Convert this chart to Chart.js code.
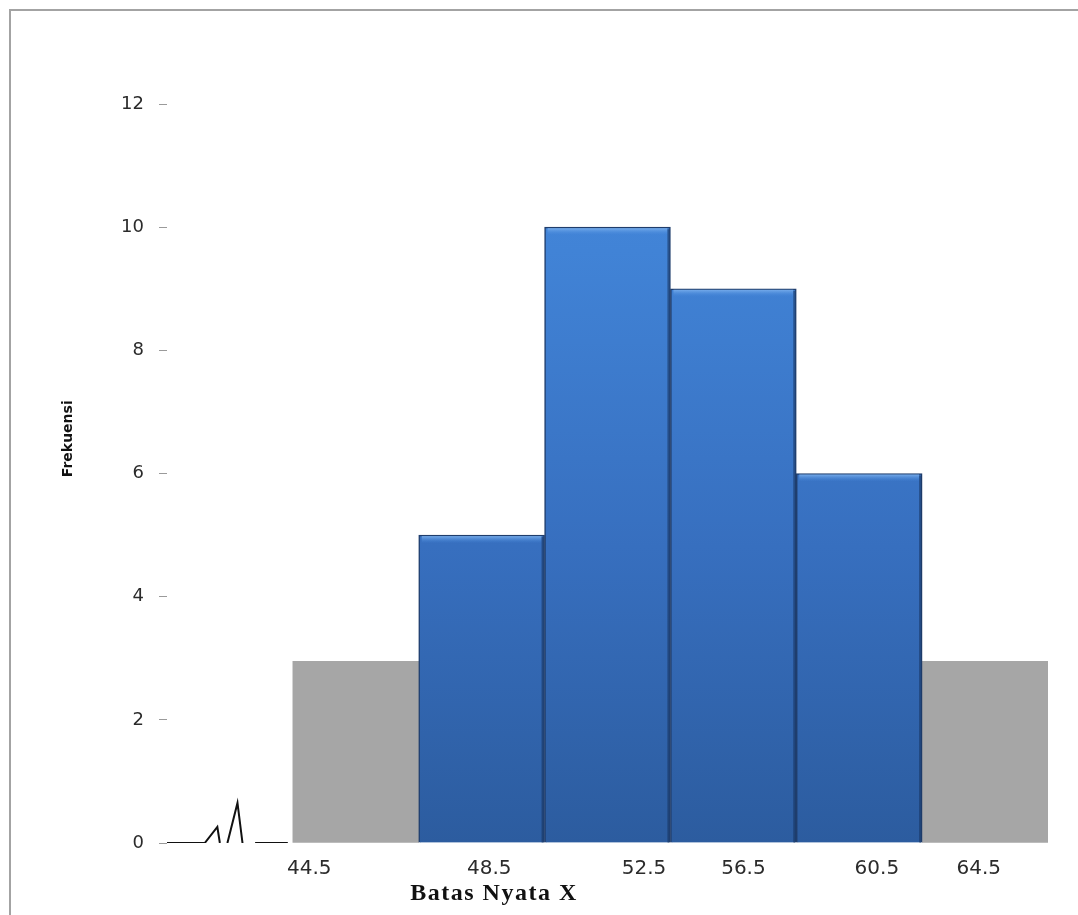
<!DOCTYPE html>
<html>
<head>
<meta charset="utf-8">
<title>Histogram Frekuensi</title>
<script src="https://cdn.jsdelivr.net/npm/chart.js@4/dist/chart.umd.min.js"></script>
<style>
  html, body { margin: 0; padding: 0; background: #ffffff; }
  #wrap { width: 1078px; height: 915px; position: relative; }
</style>
</head>
<body>
<div id="wrap"><canvas id="c"></canvas></div>
<script>
// Class index of each histogram column (0 = empty leading column)
const classIndex = [0, 1, 2, 3, 4, 5, 6];
// Frequency of each class interval
const frekuensi = [null, null, 5, 10, 9, 6, null];
// Grey backdrop columns at the two outer classes
const latar = [null, 2.95, null, null, null, null, 2.95];
// Class boundary labels along the x axis
const xTickLabels = ['44.5', '48.5', '52.5', '56.5', '60.5', '64.5'];
// Small trace drawn in the leading column (x in class units, null = break)
const jejakX = [-0.5, -0.2, -0.1, -0.08, -0.05, -0.02, 0.06, 0.10, 0.15, 0.20, 0.46];
const jejakY = [0, 0, 0.26, 0, null, 0, 0.65, 0, null, 0, 0];

// Where each boundary label sits along the class axis
const xLabelAt = [0.63, 2.06, 3.29, 4.08, 5.14, 5.95];

const toPoints = (xs, ys) => xs.map((x, i) => ({ x: x, y: ys[i] }));

function blueGradient(context) {
  const chart = context.chart;
  const area = chart.chartArea;
  if (!area) return '#3b78c9';
  const g = chart.ctx.createLinearGradient(0, area.top, 0, area.bottom);
  g.addColorStop(0, '#4688dc');
  g.addColorStop(0.2, '#4183d6');
  g.addColorStop(0.6, '#376fbf');
  g.addColorStop(1, '#2c5c9f');
  return g;
}

// Page frame (top and left rule) and white background
const framePlugin = {
  id: 'frame',
  beforeDraw(chart) {
    const ctx = chart.ctx;
    ctx.save();
    ctx.fillStyle = '#ffffff';
    ctx.fillRect(0, 0, chart.width, chart.height);
    ctx.strokeStyle = '#a3a3a3';
    ctx.lineWidth = 2;
    ctx.beginPath();
    ctx.moveTo(10, chart.height);
    ctx.lineTo(10, 10);
    ctx.lineTo(chart.width, 10);
    ctx.stroke();
    ctx.restore();
  }
};

// Bevel highlight along the top of each frequency column
const bevelPlugin = {
  id: 'bevel',
  afterDatasetDraw(chart, args) {
    if (args.index !== 0) return;
    const ctx = chart.ctx;
    args.meta.data.forEach((bar, i) => {
      if (frekuensi[i] === null) return;
      const p = bar.getProps(['x', 'y', 'width', 'base'], true);
      const left = p.x - p.width / 2;
      ctx.save();
      const g = ctx.createLinearGradient(0, p.y, 0, p.y + 8);
      g.addColorStop(0, '#86b8f0');
      g.addColorStop(1, 'rgba(70,136,220,0)');
      ctx.fillStyle = g;
      ctx.fillRect(left + 3, p.y + 1, p.width - 6, 8);
      // darker right edge
      ctx.fillStyle = 'rgba(20,45,85,0.55)';
      ctx.fillRect(left + p.width - 3, p.y + 2, 2, p.base - p.y - 2);
      ctx.restore();
    });
  }
};

// Axis titles
const titlePlugin = {
  id: 'titles',
  afterDraw(chart) {
    const ctx = chart.ctx;
    const area = chart.chartArea;
    ctx.save();
    ctx.fillStyle = '#111111';
    ctx.font = 'bold 14px "DejaVu Sans", sans-serif';
    ctx.textAlign = 'center';
    ctx.textBaseline = 'middle';
    ctx.translate(68, area.top + (area.bottom - area.top) * 0.453);
    ctx.rotate(-Math.PI / 2);
    ctx.fillText('Frekuensi', 0, 0);
    ctx.restore();

    ctx.save();
    ctx.fillStyle = '#111111';
    ctx.font = 'bold 24px "Liberation Serif", "Times New Roman", serif';
    ctx.letterSpacing = '1.5px';
    ctx.textAlign = 'center';
    ctx.textBaseline = 'alphabetic';
    ctx.fillText('Batas Nyata X', 494, 900);
    ctx.restore();
  }
};

const barShape = { barPercentage: 1, categoryPercentage: 1, grouped: false, stack: 'h', xAxisID: 'kelas' };

new Chart(document.getElementById('c'), {
  type: 'bar',
  data: {
    datasets: [
      Object.assign({
        label: 'Frekuensi',
        data: toPoints(classIndex, frekuensi),
        backgroundColor: blueGradient,
        borderColor: '#1f3d6c',
        borderWidth: 1.5,
        order: 0
      }, barShape),
      Object.assign({
        label: 'Latar',
        data: toPoints(classIndex, latar),
        backgroundColor: '#a6a6a6',
        borderWidth: 0,
        order: 1
      }, barShape),
      {
        type: 'line',
        label: 'Jejak',
        xAxisID: 'kelas',
        data: toPoints(jejakX, jejakY),
        borderColor: '#111111',
        borderWidth: 2,
        pointRadius: 0,
        tension: 0,
        spanGaps: false,
        order: 2
      }
    ]
  },
  options: {
    responsive: true,
    maintainAspectRatio: false,
    animation: false,
    layout: { padding: { top: 104, right: 30, bottom: 0, left: 0 } },
    plugins: {
      legend: { display: false },
      tooltip: { enabled: false }
    },
    scales: {
      // hidden class axis: one unit per column
      kelas: {
        type: 'linear',
        position: 'bottom',
        display: false,
        min: -0.5,
        max: 6.5,
        offset: false,
        afterBuildTicks(scale) {
          scale.ticks = classIndex.map(v => ({ value: v }));
        }
      },
      // visible boundary labels
      x: {
        type: 'linear',
        position: 'bottom',
        min: -0.5,
        max: 6.5,
        offset: false,
        grid: { display: false, drawTicks: false, offset: false },
        border: { display: false },
        afterBuildTicks(scale) {
          scale.ticks = xLabelAt.map(v => ({ value: v }));
        },
        afterFit(scale) {
          scale.height = 72;
          scale.paddingLeft = 0;
          scale.paddingRight = 0;
        },
        ticks: {
          autoSkip: false,
          maxRotation: 0,
          padding: 14,
          color: '#2b2b2b',
          font: { family: '"DejaVu Sans", sans-serif', size: 20 },
          callback: (value, index) => xTickLabels[index]
        }
      },
      y: {
        min: 0,
        max: 12,
        stacked: false,
        grid: { drawOnChartArea: false, drawTicks: true, tickLength: 8, color: '#9a9a9a', tickWidth: 1 },
        border: { display: false },
        afterFit(scale) { scale.width = 167; },
        ticks: {
          stepSize: 2,
          padding: 15,
          color: '#2b2b2b',
          font: { family: '"DejaVu Sans", sans-serif', size: 18 }
        }
      }
    }
  },
  plugins: [framePlugin, bevelPlugin, titlePlugin]
});
</script>
</body>
</html>
